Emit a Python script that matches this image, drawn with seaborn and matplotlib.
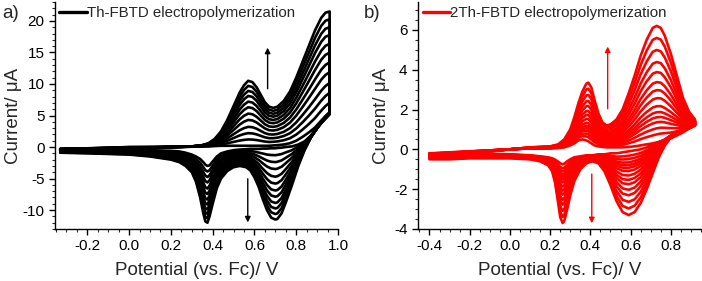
import numpy as np
import pandas as pd
import matplotlib
matplotlib.use("Agg")
import matplotlib.pyplot as plt
from matplotlib.ticker import MultipleLocator
import seaborn as sns

sns.set_theme(style="ticks")
plt.rcParams['font.family'] = ['Liberation Sans', 'DejaVu Sans']

# ---------------- Panel a) Th-FBTD ----------------
a_fwd_E = [-0.33, -0.2, -0.1, 0.0, 0.1, 0.2, 0.3, 0.35, 0.38, 0.41, 0.44, 0.47, 0.5, 0.53, 0.55, 0.57,
           0.59, 0.61, 0.63, 0.65, 0.67, 0.69, 0.71, 0.74, 0.77, 0.8, 0.83, 0.86, 0.89, 0.92, 0.94, 0.96]
a_fwd_first = [-0.3, -0.2, -0.1, 0.0, 0.0, 0.0, 0.05, 0.1, 0.1, 0.15, 0.2, 0.2, 0.2, 0.2, 0.2, 0.2,
               0.2, 0.2, 0.2, 0.2, 0.2, 0.25, 0.3, 0.4, 0.6, 1.0, 1.6, 2.3, 3.1, 4.2, 4.9, 5.5]
a_fwd_last = [-0.5, -0.4, -0.3, -0.2, -0.1, 0.0, 0.1, 0.3, 0.6, 1.3, 2.5, 4.3, 6.5, 8.7, 9.8, 10.5,
              10.3, 9.5, 8.3, 7.1, 6.4, 6.2, 6.4, 7.3, 8.8, 11.0, 13.5, 16.0, 18.5, 20.5, 21.3, 21.5]
a_rev_E = [0.96, 0.94, 0.92, 0.9, 0.87, 0.84, 0.81, 0.78, 0.75, 0.73, 0.71, 0.7, 0.68, 0.66, 0.64,
           0.62, 0.6, 0.58, 0.56, 0.53, 0.5, 0.47, 0.44, 0.42, 0.4, 0.385, 0.375, 0.365, 0.355, 0.34,
           0.32, 0.3, 0.27, 0.24, 0.2, 0.1, 0.0, -0.1, -0.2, -0.33]
a_rev_first = [5.2, 4.5, 3.8, 3.0, 1.8, 0.9, 0.4, 0.1, 0.0, -0.1, -0.15, -0.2, -0.2, -0.25, -0.25,
               -0.3, -0.3, -0.3, -0.35, -0.4, -0.5, -0.7, -1.0, -1.5, -2.3, -2.9, -3.0, -2.8, -2.4, -1.9,
               -1.5, -1.2, -0.9, -0.7, -0.6, -0.5, -0.4, -0.35, -0.3, -0.3]
a_rev_last = [5.5, 4.8, 4.0, 3.0, 1.5, -0.5, -3.0, -6.0, -8.8, -10.5, -11.4, -11.5, -11.2, -10.0, -8.3,
              -6.3, -4.8, -3.7, -3.2, -3.0, -3.2, -3.8, -5.0, -6.5, -9.0, -11.0, -12.0, -11.8, -10.5, -8.0,
              -5.5, -4.0, -3.0, -2.4, -2.0, -1.5, -1.2, -1.1, -1.0, -0.9]
a_peak_current = [0.2, 1.2, 2.2, 3.2, 4.3, 5.3, 6.3, 7.2, 8.1, 8.9, 9.7, 10.5]

# ---------------- Panel b) 2Th-FBTD ----------------
b_fwd_E = [-0.4, -0.3, -0.2, -0.1, 0.0, 0.1, 0.2, 0.24, 0.27, 0.3, 0.32, 0.34, 0.36, 0.38, 0.39, 0.405,
           0.42, 0.44, 0.46, 0.48, 0.5, 0.53, 0.56, 0.59, 0.62, 0.65, 0.68, 0.71, 0.73, 0.75, 0.77, 0.8,
           0.83, 0.86, 0.89, 0.92]
b_fwd_first = [-0.2, -0.15, -0.1, -0.05, 0.0, 0.05, 0.05, 0.07, 0.1, 0.2, 0.3, 0.45, 0.5, 0.45, 0.4, 0.3,
               0.2, 0.15, 0.12, 0.1, 0.1, 0.1, 0.1, 0.12, 0.15, 0.2, 0.25, 0.3, 0.35, 0.4, 0.45, 0.55,
               0.7, 0.85, 1.05, 1.2]
b_fwd_last = [-0.4, -0.3, -0.2, -0.1, 0.0, 0.1, 0.15, 0.25, 0.5, 1.0, 1.6, 2.3, 2.9, 3.3, 3.35, 3.1,
              2.5, 1.8, 1.35, 1.2, 1.25, 1.5, 2.0, 2.8, 3.7, 4.7, 5.5, 6.1, 6.2, 6.1, 5.7, 4.8,
              3.7, 2.6, 1.9, 1.5]
b_rev_E = [0.92, 0.88, 0.84, 0.8, 0.77, 0.74, 0.71, 0.68, 0.65, 0.62, 0.59, 0.56, 0.53, 0.5, 0.47,
           0.44, 0.41, 0.38, 0.35, 0.32, 0.3, 0.285, 0.27, 0.262, 0.25, 0.24, 0.225, 0.21, 0.19, 0.15,
           0.1, 0.0, -0.1, -0.2, -0.3, -0.4]
b_rev_first = [1.2, 1.0, 0.85, 0.7, 0.5, 0.35, 0.2, 0.1, 0.0, -0.05, -0.1, -0.15, -0.2, -0.2, -0.25,
               -0.25, -0.3, -0.3, -0.35, -0.4, -0.5, -0.6, -0.72, -0.75, -0.7, -0.62, -0.52, -0.45, -0.4, -0.35,
               -0.3, -0.25, -0.22, -0.2, -0.2, -0.2]
b_rev_last = [1.3, 1.1, 0.9, 0.6, 0.2, -0.4, -1.2, -2.0, -2.7, -3.15, -3.3, -3.15, -2.6, -1.8, -1.1,
              -0.7, -0.6, -0.7, -1.0, -1.6, -2.3, -3.0, -3.6, -3.7, -3.4, -2.7, -1.7, -1.1, -0.8, -0.6,
              -0.5, -0.45, -0.45, -0.45, -0.5, -0.5]
b_peak_current = [0.4, 0.8, 1.1, 1.4, 1.65, 1.9, 2.2, 2.6, 3.0, 3.4, 3.9, 4.4, 5.0, 5.6, 6.2]


def build_frame(fE, ff, fl, rE, rf, rl, peaks):
    rows = []
    p0, p1 = peaks[0], peaks[-1]
    for c, p in enumerate(peaks):
        w = (p - p0) / (p1 - p0)
        cur_f = np.array(ff) + w * (np.array(fl) - np.array(ff))
        cur_r = np.array(rf) + w * (np.array(rl) - np.array(rf))
        E = list(fE) + list(rE)
        I = list(cur_f) + list(cur_r)
        for k, (e, i) in enumerate(zip(E, I)):
            rows.append((c, k, e, i))
    return pd.DataFrame(rows, columns=["cycle", "order", "E", "I"])


dfa = build_frame(a_fwd_E, a_fwd_first, a_fwd_last, a_rev_E, a_rev_first, a_rev_last, a_peak_current)
dfb = build_frame(b_fwd_E, b_fwd_first, b_fwd_last, b_rev_E, b_rev_first, b_rev_last, b_peak_current)

fig = plt.figure(figsize=(7.02, 2.81), dpi=100)
axa = fig.add_axes([55 / 702, 52 / 281, 283 / 702, 227 / 281])
axb = fig.add_axes([418 / 702, 52 / 281, 283 / 702, 227 / 281])


def draw(ax, df, color, label):
    for c, g in df.groupby("cycle"):
        sns.lineplot(data=g, x="E", y="I", sort=False, estimator=None, ax=ax,
                     color=color, lw=1.9, legend=False)
    ax.plot([], [], color=color, lw=2.4, label=label)
    ax.legend(loc="upper left", frameon=False, handlelength=1.85, handletextpad=0.0,
              borderaxespad=0.1, borderpad=0.2, fontsize=10.8)


draw(axa, dfa, "black", "Th-FBTD electropolymerization")
draw(axb, dfb, "#ff0000", "2Th-FBTD electropolymerization")

for ax in (axa, axb):
    sns.despine(ax=ax)
    ax.set_xlabel("Potential (vs. Fc)/ V", fontsize=13.5, labelpad=6)
    ax.set_ylabel("Current/ \u03bcA", fontsize=13.5)
    ax.tick_params(axis="both", which="major", labelsize=11, length=4, width=1, direction="out",
                   colors="black")
    ax.tick_params(axis="both", which="minor", length=2, width=0.8, direction="out")
    ax.xaxis.set_minor_locator(MultipleLocator(0.05))
    ax.spines["left"].set_linewidth(1)
    ax.spines["bottom"].set_linewidth(1)
    ax.spines["left"].set_color("black")
    ax.spines["bottom"].set_color("black")

axa.set_xlim(-0.355, 1.0)
axa.set_ylim(-13, 23)
axa.yaxis.set_minor_locator(MultipleLocator(1))
axa.set_xticks([-0.2, 0.0, 0.2, 0.4, 0.6, 0.8, 1.0])
axa.set_xticklabels(["-0.2", "0.0", "0.2", "0.4", "0.6", "0.8", "1.0"])
axa.set_yticks([-10, -5, 0, 5, 10, 15, 20])
axa.set_yticklabels(["-10", "-5", "0", "5", "10", "15", "20"])
axa.yaxis.set_label_coords(-0.118, 0.5)

axb.set_xlim(-0.457, 0.95)
axb.set_ylim(-4, 7.4)
axb.set_xticks([-0.4, -0.2, 0.0, 0.2, 0.4, 0.6, 0.8])
axb.set_xticklabels(["-0.4", "-0.2", "0.0", "0.2", "0.4", "0.6", "0.8"])
axb.set_yticks([-4, -2, 0, 2, 4, 6])
axb.set_yticklabels(["-4", "-2", "0", "2", "4", "6"])
axb.yaxis.set_minor_locator(MultipleLocator(0.5))
axb.yaxis.set_label_coords(-0.099, 0.5)

# arrows
axa.annotate("", xy=(0.663, 16.2), xytext=(0.663, 8.8),
             arrowprops=dict(arrowstyle="-|>", color="black", lw=1, mutation_scale=8))
axa.annotate("", xy=(0.568, -12.4), xytext=(0.568, -4.6),
             arrowprops=dict(arrowstyle="-|>", color="black", lw=1, mutation_scale=8))
axb.annotate("", xy=(0.486, 5.3), xytext=(0.486, 1.9),
             arrowprops=dict(arrowstyle="-|>", color="#ff0000", lw=1, mutation_scale=8))
axb.annotate("", xy=(0.407, -3.85), xytext=(0.407, -1.1),
             arrowprops=dict(arrowstyle="-|>", color="#ff0000", lw=1, mutation_scale=8))

fig.text(2 / 702, 1 - 14 / 281, "a)", fontsize=13.5, va="center", ha="left")
fig.text(364 / 702, 1 - 14 / 281, "b)", fontsize=13.5, va="center", ha="left")

fig.savefig("out.png", dpi=100)
